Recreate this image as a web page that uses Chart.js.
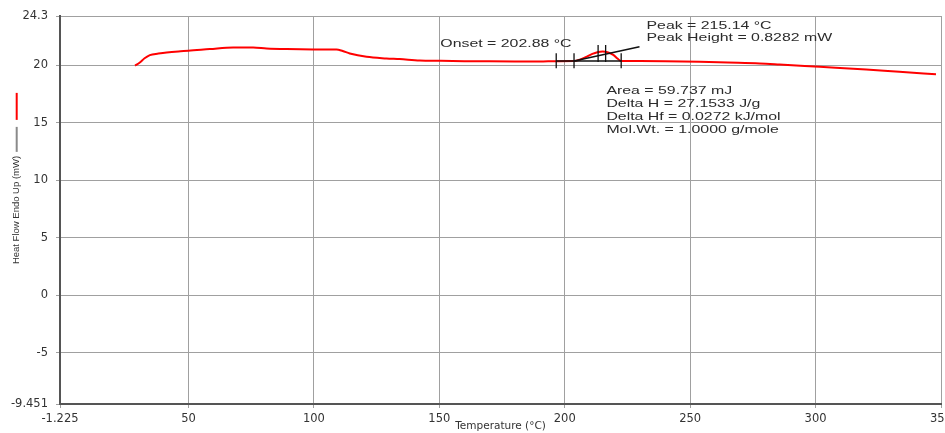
<!DOCTYPE html>
<html>
<head>
<meta charset="utf-8">
<title>Heat Flow</title>
<script src="https://cdn.jsdelivr.net/npm/chart.js@4"></script>
<style>
  html, body { margin: 0; padding: 0; background: #ffffff; }
  #wrap { width: 945px; height: 433px; }
</style>
</head>
<body>
<div id="wrap"><canvas id="c" width="945" height="433"></canvas></div>
<script>
// Heat flow trace: temperature (°C) and heat flow (mW)
const temperature = [28.7, 30.6, 32.5, 34.6, 38, 41.3, 46, 49.9, 58.5, 67.8, 75.8, 81.1, 89.1, 99.7, 109.0,
  111.5, 114.3, 121.0, 128.9, 134.2, 142.2, 150, 160, 170, 180, 190, 196.6, 203.7, 206, 208.6, 211, 213,
  215.14, 217, 219.5, 221, 222.5, 230, 240, 253.8, 265, 277.7, 285.6, 301.6, 320.2, 333.4, 348];
const heatFlow = [19.98, 20.26, 20.62, 20.90, 21.03, 21.13, 21.22, 21.27, 21.42, 21.57, 21.57, 21.48, 21.42, 21.39, 21.39,
  21.25, 21.04, 20.75, 20.61, 20.55, 20.43, 20.40, 20.37, 20.36, 20.35, 20.34, 20.37, 20.38, 20.5, 20.75, 21.0, 21.15,
  21.21, 21.15, 20.9, 20.6, 20.38, 20.38, 20.37, 20.32, 20.25, 20.17, 20.08, 19.88, 19.65, 19.44, 19.24];

// Peak analysis construction lines
const baselineT = [196.6, 222.5];
const baselineHF = [20.38, 20.38];
const tangentT = [203.7, 229.8];
const tangentHF = [20.38, 21.62];

// Integration limit / peak markers (vertical ticks)
const markerT = [196.6, 203.7, 213.3, 216.3, 222.5];
const markerLow = [19.76, 19.76, 20.29, 20.29, 19.76];
const markerHigh = [21.07, 21.07, 21.77, 21.77, 21.07];

// Axis ticks
const xTicks = [-1.225, 50, 100, 150, 200, 250, 300, 350];
const yTicks = [-9.451, -5, 0, 5, 10, 15, 20, 24.3];

// Result text
const onsetText = ['Onset = 202.88 °C'];
const peakText = ['Peak = 215.14 °C', 'Peak Height = 0.8282 mW'];
const areaText = ['Area = 59.737 mJ', 'Delta H = 27.1533 J/g', 'Delta Hf = 0.0272 kJ/mol', 'Mol.Wt. = 1.0000 g/mole'];

// Where each text block sits (data coordinates of first baseline) and its line step in px
const textBlocks = [
  { lines: onsetText, t: 150.4, hf: 21.57, step: 12 },
  { lines: peakText, t: 232.6, hf: 23.14, step: 11.8 },
  { lines: areaText, t: 216.6, hf: 17.55, step: 13 }
];

const trace = temperature.map((t, i) => ({ x: t, y: heatFlow[i] }));
const baseline = baselineT.map((t, i) => ({ x: t, y: baselineHF[i] }));
const tangent = tangentT.map((t, i) => ({ x: t, y: tangentHF[i] }));
const markers = [];
markerT.forEach((t, i) => {
  markers.push({ x: t, y: markerLow[i] }, { x: t, y: markerHigh[i] }, { x: t, y: null });
});

const TEXT = '#2b2b2b';

// Draws result text blocks (slightly widened Arial-style face)
const resultText = {
  id: 'resultText',
  afterDatasetsDraw(chart) {
    const { ctx, scales: { x, y } } = chart;
    ctx.save();
    ctx.fillStyle = TEXT;
    ctx.font = '11.5px "Liberation Sans", Arial, sans-serif';
    ctx.textAlign = 'left';
    ctx.textBaseline = 'alphabetic';
    textBlocks.forEach(b => {
      const px = x.getPixelForValue(b.t);
      const py = y.getPixelForValue(b.hf);
      b.lines.forEach((line, k) => {
        ctx.save();
        ctx.translate(px, py + k * b.step);
        ctx.scale(1.38, 1);
        ctx.fillText(line, 0, 0);
        ctx.restore();
      });
    });
    ctx.restore();
  }
};

// Series key swatches stacked above the vertical axis title
const axisKey = {
  id: 'axisKey',
  afterDraw(chart) {
    const { ctx } = chart;
    const ys = chart.scales.y;
    const t = ys.options.title;
    ctx.save();
    ctx.font = `${t.font.size}px ${t.font.family}`;
    const w = ctx.measureText(t.text).width;
    const cy = (ys.top + ys.bottom) / 2;
    const cx = ys.left + t.font.size * 1.2 / 2 + t.padding.top;
    const textTop = cy - w / 2;
    ctx.lineWidth = 2;
    ctx.strokeStyle = '#8a8a8a';
    ctx.beginPath();
    ctx.moveTo(cx, textTop - 4);
    ctx.lineTo(cx, textTop - 29);
    ctx.stroke();
    ctx.strokeStyle = '#ff0000';
    ctx.beginPath();
    ctx.moveTo(cx, textTop - 36);
    ctx.lineTo(cx, textTop - 63);
    ctx.stroke();
    ctx.restore();
  }
};

new Chart(document.getElementById('c'), {
  type: 'line',
  data: {
    datasets: [
      { data: baseline, borderColor: '#111111', borderWidth: 1.5, pointRadius: 0, tension: 0 },
      { data: tangent, borderColor: '#111111', borderWidth: 1.5, pointRadius: 0, tension: 0 },
      { data: markers, borderColor: '#111111', borderWidth: 1.3, pointRadius: 0, tension: 0, spanGaps: false },
      { data: trace, borderColor: '#ff0000', borderWidth: 2, pointRadius: 0, cubicInterpolationMode: 'monotone' }
    ]
  },
  options: {
    responsive: false,
    animation: false,
    events: [],
    layout: { padding: { top: 16, right: 4, left: 0, bottom: 0 } },
    plugins: { legend: { display: false }, tooltip: { enabled: false } },
    scales: {
      x: {
        type: 'linear',
        min: -1.225,
        max: 350,
        afterBuildTicks(scale) { scale.ticks = xTicks.map(v => ({ value: v })); },
        afterFit(scale) { scale.height = 29; scale.paddingLeft = 0; scale.paddingRight = 0; },
        grid: { color: '#a0a0a0', lineWidth: 1, tickLength: 4 },
        border: { color: '#555555', width: 2 },
        ticks: {
          autoSkip: false, maxRotation: 0, padding: 4, color: '#333333',
          font: { family: '"DejaVu Sans", sans-serif', size: 11.5 },
          callback: v => String(v)
        },
        title: {
          display: true, text: 'Temperature (°C)', color: '#333333',
          font: { family: '"DejaVu Sans", sans-serif', size: 10.5 },
          padding: { top: 0, bottom: 0 }
        }
      },
      y: {
        type: 'linear',
        min: -9.451,
        max: 24.3,
        afterBuildTicks(scale) { scale.ticks = yTicks.map(v => ({ value: v })); },
        afterFit(scale) { scale.width = 60; },
        grid: { color: '#a0a0a0', lineWidth: 1, tickLength: 4 },
        border: { color: '#555555', width: 2 },
        ticks: {
          autoSkip: false, padding: 8, color: '#333333',
          font: { family: '"DejaVu Sans", sans-serif', size: 11.5 },
          callback: v => String(v)
        },
        title: {
          display: true, text: 'Heat Flow Endo Up (mW)', color: '#333333',
          font: { family: '"Liberation Sans", Arial, sans-serif', size: 9.5 },
          padding: { top: 11, bottom: 0 }
        }
      }
    }
  },
  plugins: [resultText, axisKey]
});
</script>
</body>
</html>
